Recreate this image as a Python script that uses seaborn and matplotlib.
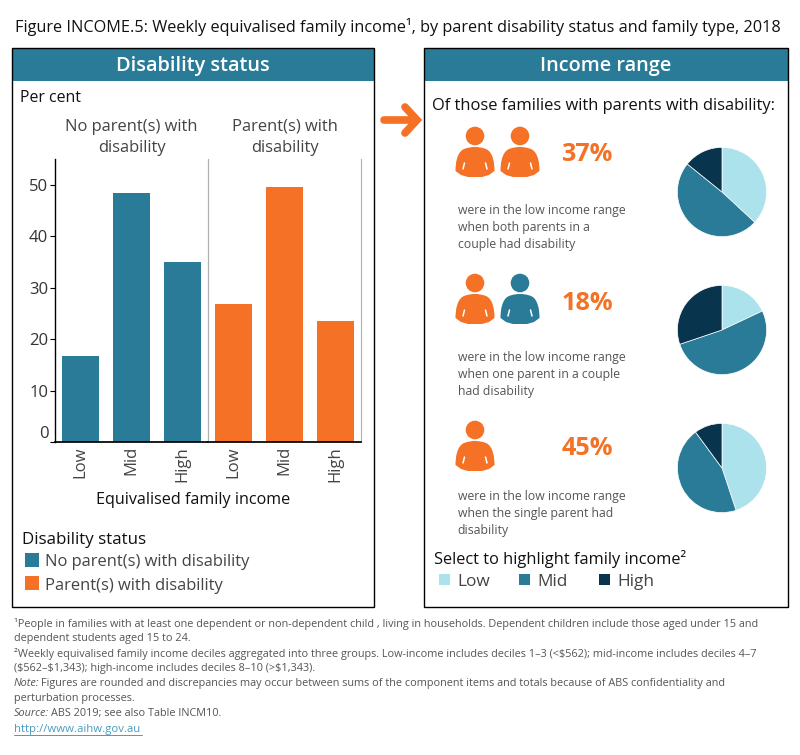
import pandas as pd
import matplotlib
matplotlib.use("Agg")
import matplotlib.pyplot as plt
from matplotlib.patches import Rectangle, Circle, PathPatch
from matplotlib.path import Path
import seaborn as sns

# values
income_groups = ["Low", "Mid", "High"]
no_disability = [16.7, 48.4, 35.0]
with_disability = [26.8, 49.6, 23.5]
both_parents = [36.9, 48.9, 14.2]
one_parent = [18.0, 51.8, 30.2]
single_parent = [44.9, 45.0, 10.1]
y_ticks = [0, 10, 20, 30, 40, 50]

TEAL = "#2A7B97"
ORANGE = "#F47125"
LIGHT = "#ABE2EC"
DARK = "#08344E"
GREY = "#555555"
W, H = 800, 755

sns.set_theme(style="white")
plt.rcParams["font.family"] = ["Open Sans", "DejaVu Sans"]

fig = plt.figure(figsize=(W / 100, H / 100), dpi=100)

# everything that is not a bar or a pie sits on a pixel canvas
bg = fig.add_axes([0, 0, 1, 1], zorder=0)
bg.set_xlim(0, W)
bg.set_ylim(H, 0)
bg.axis("off")


def rect_px(x0, y0, x1, y1):
    return [x0 / W, 1 - y1 / H, (x1 - x0) / W, (y1 - y0) / H]


def txt(x, y, s, size=10, color="#222222", ha="left", **kw):
    return bg.text(x, y + 1.5, s, fontsize=size, color=color, ha=ha, va="center", **kw)


def panel(x0, y0, x1, y1, title):
    bg.add_patch(Rectangle((x0, y0), x1 - x0, 33, fc=TEAL, ec="none"))
    bg.add_patch(Rectangle((x0, y0), x1 - x0, y1 - y0, fc="none", ec="black", lw=1))
    txt((x0 + x1) / 2, y0 + 17, title, size=14.3, color="white", ha="center", fontweight="semibold")


def swatch(x, y, size, color):
    bg.add_patch(Rectangle((x, y), size, size, fc=color, ec="none"))


def person(cx, head_y, color):
    bg.add_patch(Circle((cx, head_y), 9.3, fc=color, ec="none"))
    top = head_y + 11
    verts = [(-7, 30), (-14, 28), (-19.5, 24),
             (-19.5, 16), (-18, 6), (-12, 2.5),
             (-8, 0.5), (-3, 0), (0, 0),
             (3, 0), (8, 0.5), (12, 2.5),
             (18, 6), (19.5, 16), (19.5, 24),
             (14, 28), (7, 30), (-7, 30)]
    codes = [Path.MOVETO, Path.LINETO, Path.LINETO,
             Path.CURVE4, Path.CURVE4, Path.CURVE4,
             Path.CURVE4, Path.CURVE4, Path.CURVE4,
             Path.CURVE4, Path.CURVE4, Path.CURVE4,
             Path.CURVE4, Path.CURVE4, Path.CURVE4,
             Path.LINETO, Path.LINETO, Path.CLOSEPOLY]
    bg.add_patch(PathPatch(Path([(cx + a, top + b) for a, b in verts], codes), fc=color, ec="none"))
    for side in (-1, 1):
        bg.plot([cx + side * 10.5, cx + side * 12], [top + 16, top + 22], color="white", lw=1.1)


txt(15, 25, "Figure INCOME.5: Weekly equivalised family income¹, by parent disability status and family type, 2018", size=11.7, color="#111111")

panel(12, 48, 374, 607, "Disability status")
panel(424, 48, 788, 607, "Income range")

# left panel: one bar axes per disability status
txt(20, 96, "Per cent", size=11.4, color="#111111")
bar_df = pd.DataFrame({
    "income": income_groups * 2,
    "share": no_disability + with_disability,
    "status": ["No parent(s) with\ndisability"] * 3 + ["Parent(s) with\ndisability"] * 3,
})
statuses = bar_df["status"].unique()
for i, (status, color) in enumerate(zip(statuses, [TEAL, ORANGE])):
    ax = fig.add_axes(rect_px(55 + 153 * i, 159, 208 + 153 * i, 442), zorder=2)
    ax.patch.set_alpha(0)
    sns.barplot(data=bar_df[bar_df["status"] == status], x="income", y="share",
                order=income_groups, color=color, width=0.745, saturation=1, linewidth=0, ax=ax)
    ax.set_ylim(0, 55)
    ax.set_xlabel("")
    ax.set_ylabel("")
    ax.set_title(status, fontsize=11.9, color="#444444", pad=5, linespacing=1.45)
    ax.tick_params(axis="x", length=0, pad=3, labelsize=12, labelcolor="#444444", labelrotation=90)
    sns.despine(ax=ax, top=True, right=False)
    ax.spines["bottom"].set_color("black")
    ax.spines["right"].set_color("#b0b0b0")
    ax.spines["right"].set_linewidth(0.8)
    ax.spines["left"].set_color("black" if i == 0 else "#b0b0b0")
    ax.spines["left"].set_linewidth(1 if i == 0 else 0.8)
    if i == 0:
        ax.set_yticks(y_ticks)
        ax.tick_params(axis="y", length=3.6, width=0.8, color="black", left=True, pad=1.2, labelsize=12, labelcolor="#333333")
        ax.get_yticklabels()[0].set_verticalalignment("bottom")
    else:
        ax.set_yticks([])

txt(193.5, 499, "Equivalised family income", size=11.65, ha="center", color="#111111")
txt(22, 539, "Disability status", size=12.2, color="#111111")
swatch(25, 553, 14, TEAL)
txt(45, 561, "No parent(s) with disability", size=11.9, color="#444444")
swatch(25, 576, 14, ORANGE)
txt(45, 584, "Parent(s) with disability", size=11.9, color="#444444")

# arrow between the panels
bg.plot([384, 414], [120, 120], color=ORANGE, lw=5.5, solid_capstyle="round")
bg.plot([405, 417, 405], [107, 120, 133], color=ORANGE, lw=5.5, solid_capstyle="round", solid_joinstyle="miter")

# right panel
txt(432, 105, "Of those families with parents with disability:", size=11.9, color="#111111")
rows = [
    (136, 153, 209, "37%", both_parents, 192, [475, 520], [ORANGE, ORANGE],
     ["were in the low income range", "when both parents in a", "couple had disability"]),
    (283, 302, 356, "18%", one_parent, 330, [475, 520], [ORANGE, TEAL],
     ["were in the low income range", "when one parent in a couple", "had disability"]),
    (430, 447, 495, "45%", single_parent, 468, [475], [ORANGE],
     ["were in the low income range", "when the single parent had", "disability"]),
]
for head_y, pct_y, text_y, pct, values, pie_y, xs, cols, lines in rows:
    for cx, col in zip(xs, cols):
        person(cx, head_y, col)
    txt(587, pct_y, pct, size=18.2, color=ORANGE, ha="center", fontweight="bold")
    for k, line in enumerate(lines):
        txt(457.5, text_y + 17 * k, line, size=8.85, color=GREY)
    r = 45.5
    pie_ax = fig.add_axes(rect_px(722 - r, pie_y - r, 722 + r, pie_y + r), zorder=2)
    pie_ax.pie(values, colors=[LIGHT, TEAL, DARK], startangle=90, counterclock=False,
               wedgeprops={"edgecolor": "white", "linewidth": 0.5})
    pie_ax.set_xlim(-1.02, 1.02)
    pie_ax.set_ylim(-1.02, 1.02)

txt(434, 558, "Select to highlight family income²", size=11.75, color="#111111")
for name, color, x in zip(income_groups, [LIGHT, TEAL, DARK], [439, 519, 599]):
    swatch(x, 574, 11, color)
    txt(x + 18, 580, name, size=12.4, color="#444444")

# footnotes
FOOT = 7.85
foot_lines = [
    "¹People in families with at least one dependent or non-dependent child , living in households. Dependent children include those aged under 15 and",
    "dependent students aged 15 to 24.",
    "²Weekly equivalised family income deciles aggregated into three groups. Low-income includes deciles 1–3 (<$562); mid-income includes deciles 4–7",
    "($562–$1,343); high-income includes deciles 8–10 (>$1,343).",
]
for k, line in enumerate(foot_lines):
    txt(14, 622 + 15 * k, line.replace("$", r"\$"), size=FOOT, color=GREY)

fig.canvas.draw()
renderer = fig.canvas.get_renderer()


def lead_text(y, lead, rest):
    t = txt(14, y, lead, size=FOOT, color=GREY, style="italic")
    box = t.get_window_extent(renderer)
    txt(box.x1 + 1.5, y, rest, size=FOOT, color=GREY)


lead_text(682, "Note:", "Figures are rounded and discrepancies may occur between sums of the component items and totals because of ABS confidentiality and")
txt(14, 697, "perturbation processes.", size=FOOT, color=GREY)
lead_text(712, "Source:", "ABS 2019; see also Table INCM10.")
txt(14, 728, "http://www.aihw.gov.au", size=8.2, color="#4A9BBF")
bg.plot([14, 142], [735, 735], color="#4A9BBF", lw=0.7)

fig.savefig("out.png", dpi=100)
